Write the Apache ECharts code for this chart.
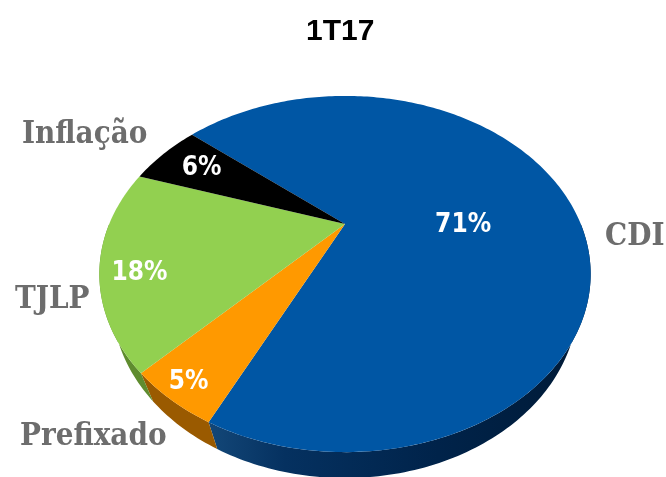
<!DOCTYPE html>
<html>
<head>
<meta charset="utf-8">
<script src="https://cdn.jsdelivr.net/npm/echarts@6/dist/echarts.min.js"></script>
<style>
  html, body { margin: 0; padding: 0; background: #ffffff; }
  #chart { width: 666px; height: 477px; }
</style>
</head>
<body>
<div id="chart"></div>
<script>
// data
const categories = ['CDI', 'Prefixado', 'TJLP', 'Inflação'];
const shares = [71, 5, 18, 6];
const pctLabels = ['71%', '5%', '18%', '6%'];

// colours
const topColors = ['#0056a4', '#ff9900', '#92d050', '#000000'];
const sideColors = [
    new echarts.graphic.LinearGradient(0, 0, 1, 0, [
        { offset: 0, color: '#134778' },
        { offset: 0.2, color: '#053160' },
        { offset: 0.6, color: '#00234a' },
        { offset: 1, color: '#001a36' }
    ]),
    '#9a5a00',
    '#5f8c2f',
    '#000000'
];

// layout (3d perspective pie), label placement
const view = { cx: 345, cy: 224, f: 603, r: 0.391, phi: 44.1, h: 0.0727, start: -140 };
const innerLabel = [[0.5, 13], [0.92, 0], [0.85, -5], [0.77, 0]];   // radius fraction, angle shift
const outerLabel = [[605, 237], [20, 437], [15, 300], [22, 135]];

const total = shares.reduce((a, b) => a + b, 0);
const cumul = [];
shares.reduce((acc, v, i) => { cumul[i] = acc; return acc + v; }, 0);
const seriesData = shares.map((v, i) => [v, cumul[i], i]);

const rad = d => d * Math.PI / 180;

function proj(theta, k, bottom) {
    const t = rad(theta), ph = rad(view.phi);
    const X = view.r * k * Math.cos(t);
    const Z = view.r * k * Math.sin(t);
    const Y = bottom ? -view.h : 0;
    const d = 1 - Z * Math.cos(ph) - Y * Math.sin(ph);
    return [view.cx + view.f * X / d, view.cy + view.f * (Z * Math.sin(ph) - Y * Math.cos(ph)) / d];
}

function sliceAngles(api) {
    const v = api.value(0), c = api.value(1);
    const a = view.start + 360 * c / total;
    const b = view.start + 360 * (c + v) / total;
    return [a, b];
}

function arc(a, b, bottom) {
    const pts = [];
    const n = Math.max(2, Math.ceil(Math.abs(b - a)));
    for (let j = 0; j <= n; j++) pts.push(proj(a + (b - a) * j / n, 1, bottom));
    return pts;
}

function renderSide(params, api) {
    const [a, b] = sliceAngles(api);
    const idx = api.value(2);
    const children = [];
    [-360, 0, 360].forEach(off => {
        const lo = Math.max(a, off), hi = Math.min(b, off + 180);
        if (hi > lo) {
            const pts = arc(lo, hi, false).concat(arc(lo, hi, true).reverse());
            children.push({ type: 'polygon', shape: { points: pts }, style: { fill: sideColors[idx] } });
        }
    });
    return { type: 'group', children: children };
}

function renderTop(params, api) {
    const [a, b] = sliceAngles(api);
    const idx = api.value(2);
    const pts = [proj(0, 0, false)].concat(arc(a, b, false));
    const mid = (a + b) / 2 + innerLabel[idx][1];
    const lp = proj(mid, innerLabel[idx][0], false);
    return {
        type: 'group',
        children: [
            { type: 'polygon', shape: { points: pts }, style: { fill: topColors[idx] } },
            {
                type: 'text', x: lp[0], y: lp[1],
                style: {
                    text: pctLabels[idx], fill: '#ffffff',
                    font: 'bold 26px "DejaVu Sans Condensed", "DejaVu Sans", sans-serif',
                    align: 'center', verticalAlign: 'middle',
                    textAlign: 'center', textVerticalAlign: 'middle'
                }
            },
            {
                type: 'text', x: outerLabel[idx][0], y: outerLabel[idx][1],
                style: {
                    text: categories[idx], fill: '#6d6d6d',
                    font: 'bold 31px "DejaVu Serif Condensed", "DejaVu Serif", serif',
                    align: 'left', verticalAlign: 'middle',
                    textAlign: 'left', textVerticalAlign: 'middle'
                }
            }
        ]
    };
}

const chart = echarts.init(document.getElementById('chart'));
chart.setOption({
    animation: false,
    backgroundColor: '#ffffff',
    title: {
        text: '1T17',
        left: 301,
        top: 12,
        textStyle: { fontFamily: '"Liberation Sans", Arial, sans-serif', fontWeight: 'bold', fontSize: 30, color: '#000000' }
    },
    series: [
        { type: 'custom', name: 'side', coordinateSystem: 'none', z: 1, silent: true, renderItem: renderSide, data: seriesData },
        { type: 'custom', name: 'top', coordinateSystem: 'none', z: 2, silent: true, renderItem: renderTop, data: seriesData }
    ]
});
</script>
</body>
</html>
